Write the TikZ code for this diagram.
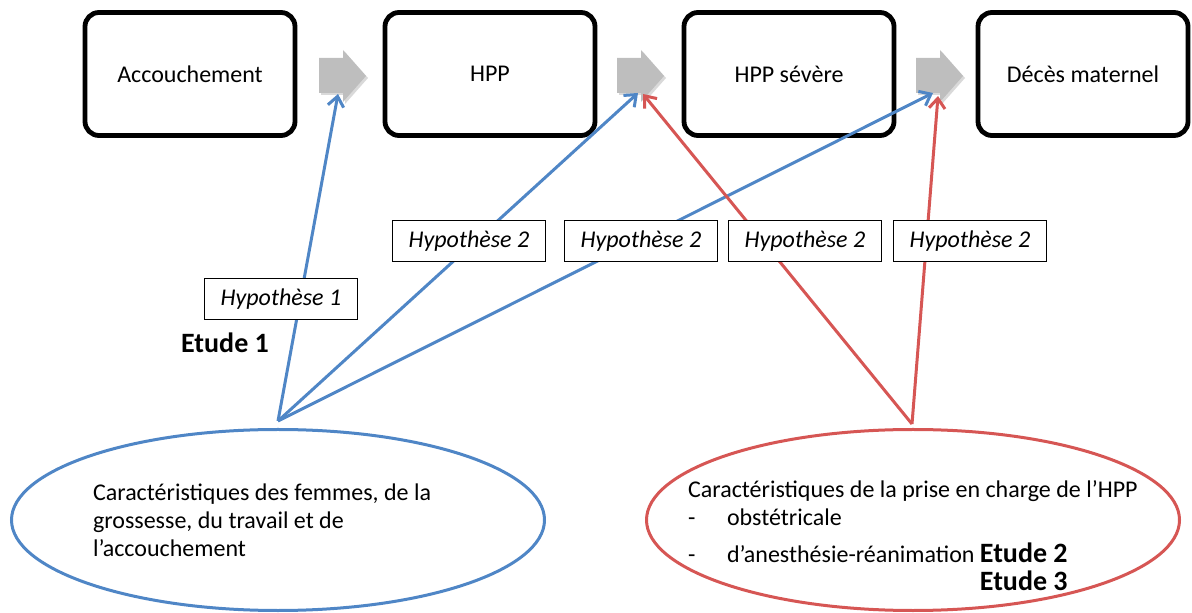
\documentclass[tikz,border=0pt]{standalone}
\usepackage{fontspec}
\setmainfont{Carlito}
\usetikzlibrary{arrows.meta,shapes.geometric}
\definecolor{hypblue}{RGB}{79,134,198}
\definecolor{hypred}{RGB}{214,86,84}
\definecolor{stepgray}{RGB}{190,190,190}
\newcommand{\etudefont}{\fontsize{14}{16}\selectfont\bfseries}
\tikzset{
    stage/.style={draw, line width=2.4pt, rounded corners=7pt, minimum width=105pt, minimum height=61.5pt, font=\fontsize{12}{14}\selectfont},
    hyp/.style={draw, fill=white, line width=0.6pt, minimum width=76.5pt, minimum height=20.5pt, font=\fontsize{12}{14}\selectfont\itshape},
    cloud/.style={draw, ellipse, line width=1.5pt, minimum width=266.5pt, minimum height=90.5pt},
    bluelink/.style={draw=hypblue, line width=1.5pt, -{Straight Barb[length=5pt,width=8pt]}},
    redlink/.style={draw=hypred, line width=1.5pt, -{Straight Barb[length=5pt,width=8pt]}},
    etude/.style={font=\etudefont},
    body/.style={align=left, font=\fontsize{12}{14}\selectfont}
}
\begin{document}
\begin{tikzpicture}[x=0.5pt, y=-0.5pt]
            \useasboundingbox (0,0) rectangle (1192,613);
            \node [stage] (acc) at (190,74) {Accouchement};
            \node [stage] (hpp) at (490,74) {HPP};
            \node [stage] (sev) at (789,74) {HPP sévère};
            \node [stage] (dec) at (1083,74) {Décès maternel};
            \foreach \x in {319,617,916} {
                \fill [black, opacity=0.15] (\x+2,60) -- ++(24,0) -- ++(0,-8) -- ++(23,26) -- ++(-23,26) -- ++(0,-9) -- ++(-24,0) -- cycle;
                \fill [stepgray] (\x,58) -- ++(24,0) -- ++(0,-8) -- ++(23,26) -- ++(-23,26) -- ++(0,-9) -- ++(-24,0) -- cycle;
            }
            \node [cloud, draw=hypblue] (women) at (278,520) {};
            \node [cloud, draw=hypred] (care) at (913,520) {};
            \coordinate (bsrc) at (278,421);
            \coordinate (rsrc) at (912,424);
            \coordinate (t1b) at (338,94);
            \coordinate (t2b) at (638,93);
            \coordinate (t3b) at (933,93);
            \coordinate (t2r) at (643,94);
            \coordinate (t3r) at (938,96);
            \draw [bluelink] (bsrc) -- (t1b);
            \draw [bluelink] (bsrc) -- (t2b);
            \draw [bluelink] (bsrc) -- (t3b);
            \draw [redlink] (rsrc) -- (t2r);
            \draw [redlink] (rsrc) -- (t3r);
            \node [hyp] (h1) at (281,299) {Hypothèse 1};
            \node [hyp] (h2a) at (469,241) {Hypothèse 2};
            \node [hyp] (h2b) at (641,241) {Hypothèse 2};
            \node [hyp] (h2c) at (805,241) {Hypothèse 2};
            \node [hyp] (h2d) at (970,241) {Hypothèse 2};
            \node [etude] (e1) at (225,343) {Etude 1};
            \node [body, anchor=west] (wtxt) at (86,520) {Caractéristiques des femmes, de la\\grossesse, du travail et de\\l’accouchement};
            \node [body, anchor=west] (ctxt) at (681,536) {Caractéristiques de la prise en charge de l’HPP\\\makebox[19.5pt][l]{-}obstétricale\\[4.5pt]\makebox[19.5pt][l]{-}d’anesthésie-réanimation {\etudefont Etude 2}\\\makebox[19.5pt][l]{}\phantom{d’anesthésie-réanimation }{\etudefont Etude 3}};
        \end{tikzpicture}
\end{document}
